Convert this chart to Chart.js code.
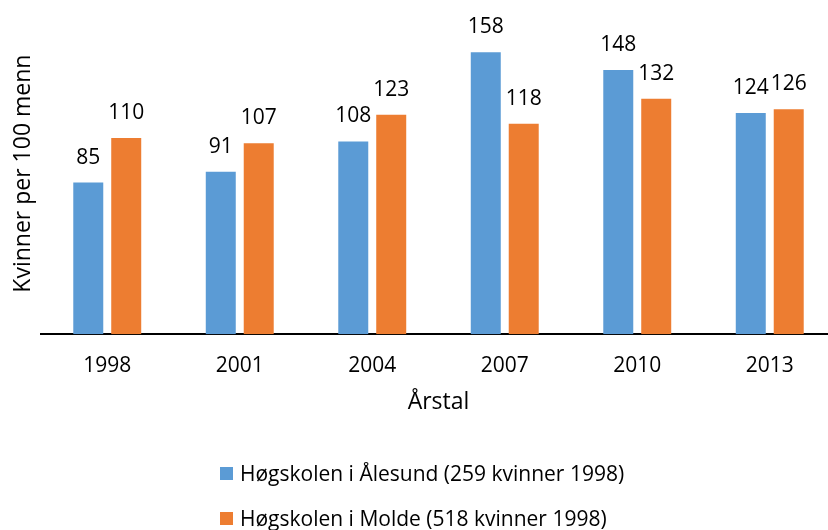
<!DOCTYPE html>
<html>
<head>
<meta charset="utf-8">
<script src="https://cdn.jsdelivr.net/npm/chart.js@4/dist/chart.umd.min.js"></script>
<style>
  html, body { margin: 0; padding: 0; background: #fff; overflow: hidden; }
  #wrap { position: relative; width: 840px; height: 530px; }
  #chart { display: block; }
  #legend { position: absolute; left: 220px; top: 459px; font-family: "Open Sans", sans-serif; font-size: 21px; color: #000; }
  .item { display: flex; align-items: center; height: 28px; margin-bottom: 17px; }
  .box { width: 13px; height: 13px; margin-right: 7px; }
</style>
</head>
<body>
<div id="wrap">
  <canvas id="chart" width="840" height="530"></canvas>
  <div id="legend"></div>
</div>
<script>
// data
const years = ['1998', '2001', '2004', '2007', '2010', '2013'];
const aalesund = [85, 91, 108, 158, 148, 124];
const molde = [110, 107, 123, 118, 132, 126];
const seriesNames = ['Høgskolen i Ålesund (259 kvinner 1998)', 'Høgskolen i Molde (518 kvinner 1998)'];
const colors = ['#5B9BD5', '#ED7D31'];

const FONT = '"Open Sans", sans-serif';

// value labels above bars
const valueLabels = {
    id: 'valueLabels',
    afterDatasetsDraw(chart) {
        const ctx = chart.ctx;
        ctx.save();
        ctx.font = '21px ' + FONT;
        ctx.fillStyle = '#000';
        ctx.textAlign = 'center';
        ctx.textBaseline = 'alphabetic';
        chart.data.datasets.forEach((ds, i) => {
            chart.getDatasetMeta(i).data.forEach((bar, j) => {
                ctx.fillText(ds.data[j], bar.x, bar.y - 19);
            });
        });
        ctx.restore();
    }
};

new Chart(document.getElementById('chart'), {
    type: 'bar',
    data: {
        labels: years,
        datasets: [
            { label: seriesNames[0], data: aalesund, backgroundColor: colors[0] },
            { label: seriesNames[1], data: molde, backgroundColor: colors[1] }
        ]
    },
    options: {
        responsive: false,
        animation: false,
        layout: { padding: { top: 13, right: 4, left: 0, bottom: 119 } },
        datasets: { bar: { categoryPercentage: 0.573, barPercentage: 0.79 } },
        plugins: { legend: { display: false }, tooltip: { enabled: false } },
        scales: {
            x: {
                z: 1,
                grid: { display: false, drawTicks: false },
                border: { color: '#000', width: 2 },
                ticks: { color: '#000', font: { family: FONT, size: 21, lineHeight: 0.7 }, padding: 24 },
                title: { display: true, text: 'Årstal', color: '#000', font: { family: FONT, size: 23, lineHeight: 0.7 }, padding: { top: -2, bottom: 0 } }
            },
            y: {
                min: 0, max: 180,
                grid: { display: false, drawTicks: false },
                border: { display: false },
                ticks: { display: false },
                title: { display: true, text: 'Kvinner per 100 menn', color: '#000', font: { family: FONT, size: 23, lineHeight: 1 }, padding: { top: 12, bottom: 6 } }
            }
        }
    },
    plugins: [valueLabels]
});

// legend, one entry per line
const legend = document.getElementById('legend');
seriesNames.forEach((name, i) => {
    const row = document.createElement('div');
    row.className = 'item';
    row.innerHTML = '<span class="box" style="background:' + colors[i] + '"></span><span>' + name + '</span>';
    legend.appendChild(row);
});
</script>
</body>
</html>
